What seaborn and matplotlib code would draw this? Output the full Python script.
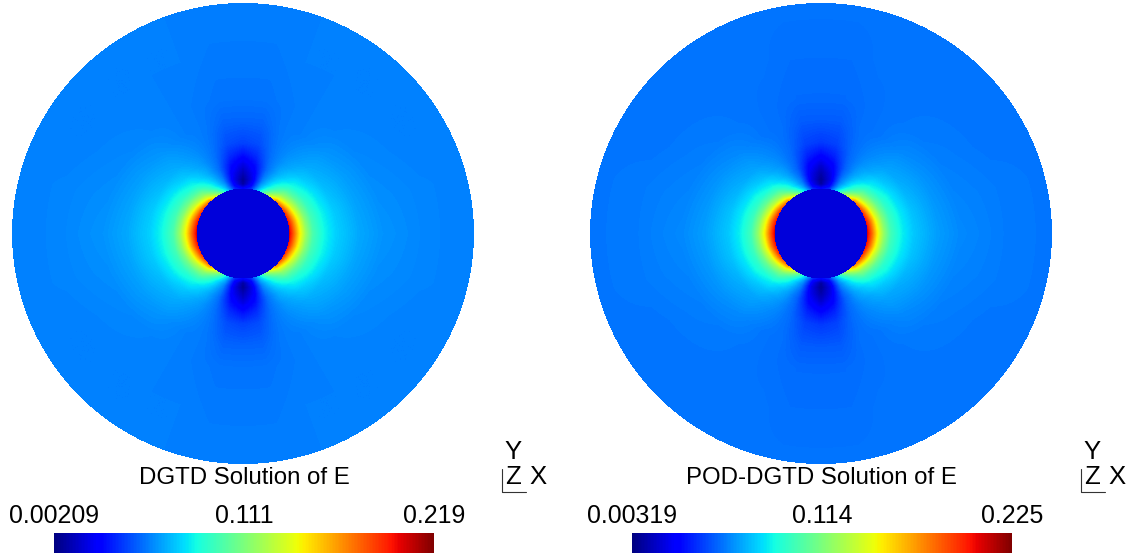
import numpy as np
import matplotlib
matplotlib.use('Agg')
import matplotlib.pyplot as plt
import seaborn as sns

titles = ['DGTD Solution of E', 'POD-DGTD Solution of E']
left_ticks = ['0.00209', '0.111', '0.219']
right_ticks = ['0.00319', '0.114', '0.225']
left_range = [0.00209, 0.219]
right_range = [0.00319, 0.225]

# radius in units of the inner circle, angle in degrees from the x axis
radii = [1.0, 1.1, 1.2, 1.35, 1.5, 1.75, 2.0, 2.5, 3.0, 4.0, 5.1]
angles = [0, 15, 30, 45, 60, 70, 80, 90]

# fraction of the colour bar, one row per angle
left_field = [
    [0.92, 0.80, 0.68, 0.54, 0.44, 0.37, 0.33, 0.29, 0.27, 0.255, 0.25],
    [0.90, 0.78, 0.66, 0.52, 0.43, 0.365, 0.325, 0.285, 0.265, 0.255, 0.25],
    [0.86, 0.72, 0.60, 0.48, 0.41, 0.35, 0.31, 0.28, 0.26, 0.25, 0.25],
    [0.78, 0.62, 0.52, 0.43, 0.37, 0.32, 0.295, 0.27, 0.255, 0.25, 0.25],
    [0.52, 0.42, 0.36, 0.32, 0.295, 0.275, 0.265, 0.25, 0.25, 0.25, 0.25],
    [0.34, 0.29, 0.26, 0.24, 0.23, 0.235, 0.24, 0.245, 0.245, 0.25, 0.25],
    [0.17, 0.12, 0.10, 0.11, 0.13, 0.17, 0.20, 0.225, 0.24, 0.245, 0.25],
    [0.12, 0.03, 0.02, 0.05, 0.08, 0.14, 0.19, 0.225, 0.24, 0.245, 0.25],
]
right_field = [
    [0.92, 0.80, 0.67, 0.53, 0.43, 0.36, 0.32, 0.28, 0.26, 0.245, 0.24],
    [0.90, 0.78, 0.65, 0.51, 0.42, 0.355, 0.315, 0.275, 0.255, 0.245, 0.24],
    [0.86, 0.72, 0.59, 0.47, 0.40, 0.34, 0.30, 0.27, 0.25, 0.24, 0.24],
    [0.78, 0.62, 0.51, 0.42, 0.36, 0.31, 0.285, 0.26, 0.245, 0.24, 0.24],
    [0.52, 0.41, 0.35, 0.31, 0.285, 0.265, 0.255, 0.24, 0.24, 0.24, 0.24],
    [0.34, 0.28, 0.25, 0.23, 0.22, 0.225, 0.23, 0.235, 0.235, 0.24, 0.24],
    [0.17, 0.11, 0.09, 0.10, 0.12, 0.16, 0.19, 0.215, 0.23, 0.235, 0.24],
    [0.12, 0.03, 0.02, 0.04, 0.07, 0.13, 0.18, 0.215, 0.23, 0.235, 0.24],
]
hole_shade = 0.08

W, H = 1134, 559
sns.set_theme(style='white')
plt.rcParams['font.family'] = ['Liberation Sans', 'DejaVu Sans']

fig = plt.figure(figsize=(W / 100, H / 100), dpi=100)


def px_axes(x0, y0, x1, y1):
    return fig.add_axes([x0 / W, 1 - y1 / H, (x1 - x0) / W, (y1 - y0) / H])


def px_text(x, y, s, size=17.6):
    fig.text(x / W, 1 - y / H, s, ha='center', va='center', fontsize=size, color='black')


def disk_grid(table):
    # look the table up on a pixel grid, first quadrant mirrored to the others
    table = np.array(table)
    c = np.arange(-231, 231) + 0.5
    x, y = np.meshgrid(c, c)
    r = np.hypot(x / 46.5, y / 45.5)
    th = np.degrees(np.arctan2(np.abs(y), np.abs(x)))
    ri = np.interp(r, radii, np.arange(len(radii)))
    ai = np.interp(th, angles, np.arange(len(angles)))
    r0 = np.minimum(ri.astype(int), len(radii) - 2)
    a0 = np.minimum(ai.astype(int), len(angles) - 2)
    fr = ri - r0
    fa = ai - a0
    g = (table[a0, r0] * (1 - fr) * (1 - fa) + table[a0, r0 + 1] * fr * (1 - fa)
         + table[a0 + 1, r0] * (1 - fr) * fa + table[a0 + 1, r0 + 1] * fr * fa)
    g[r < 1] = hole_shade
    return g, np.hypot(x, y) > 231


panels = [
    (12, 54, left_field, left_range, left_ticks, titles[0], 244.5, [54, 244, 434], 502),
    (590, 632, right_field, right_range, right_ticks, titles[1], 821.5, [632, 822, 1012], 1081),
]
for x0, bx, table, rng, ticks, title, tx, tick_x, ax_x in panels:
    g, outside = disk_grid(table)
    ax = px_axes(x0, 3, x0 + 462, 464)
    sns.heatmap(rng[0] + g * (rng[1] - rng[0]), mask=outside, cmap='jet', vmin=rng[0], vmax=rng[1],
                cbar=False, xticklabels=False, yticklabels=False, ax=ax)

    cax = px_axes(bx, 533, bx + 380, 553)
    sns.heatmap(np.linspace(rng[0], rng[1], 256)[None, :], cmap='jet', vmin=rng[0], vmax=rng[1],
                cbar=False, xticklabels=False, yticklabels=False, ax=cax)

    px_text(tx, 478, title, size=17.3)
    px_text(tick_x[0], 516, ticks[0], size=17.9)
    px_text(tick_x[1], 516, ticks[1], size=17.9)
    px_text(tick_x[2], 516, ticks[2], size=17.9)

    # axis triad
    fig.add_artist(plt.Line2D([ax_x / W, ax_x / W, (ax_x + 24) / W],
                              [1 - 469 / H, 1 - 492 / H, 1 - 492 / H], color='#333333', lw=0.8))
    px_text(ax_x + 11, 452, 'Y', size=18.5)
    px_text(ax_x + 11, 477, 'Z', size=18.5)
    px_text(ax_x + 36, 477, 'X', size=18.5)

fig.savefig('out.png', dpi=100)
